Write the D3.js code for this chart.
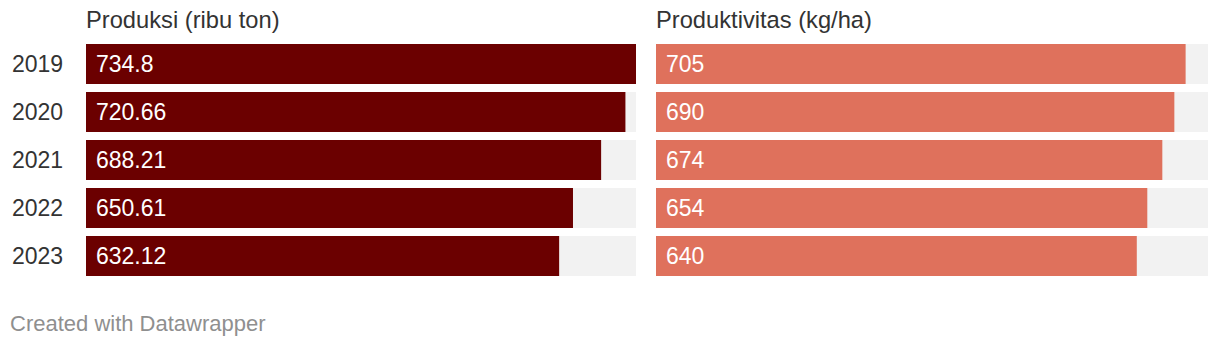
<!DOCTYPE html>
<html><head><meta charset="utf-8">
<script src="https://cdn.jsdelivr.net/npm/d3@7"></script>
<style>body{margin:0;background:#fff;}svg{display:block;font-family:"Liberation Sans",Arial,Helvetica,sans-serif;}</style>
</head><body>
<svg id="c" width="1220" height="348"></svg>
<script>
const years = ["2019","2020","2021","2022","2023"];
const produksi = [734.8, 720.66, 688.21, 650.61, 632.12];
const produksiLabels = ["734.8","720.66","688.21","650.61","632.12"];
const produktivitas = [705, 690, 674, 654, 640];
const produktivitasLabels = ["705","690","674","654","640"];
const titles = ["Produksi (ribu ton)", "Produktivitas (kg/ha)"];

const svg = d3.select("#c");
const yStep = d3.scaleBand().domain(years).range([44, 276]).paddingInner(1/6).paddingOuter(0);

const panels = [
  {x0: 86, x1: 636, vals: produksi, labels: produksiLabels, color: "#6b0000", title: titles[0]},
  {x0: 656, x1: 1208, vals: produktivitas, labels: produktivitasLabels, color: "#df715c", title: titles[1]}
];
const maxV = d3.max(produksi);
const FS = 23;

panels.forEach(p => {
  const x = d3.scaleLinear().domain([0, maxV]).range([p.x0, p.x1]);
  const g = svg.append("g");
  g.append("text").attr("x", p.x0).attr("y", 28).attr("font-size", 23.7).attr("fill", "#333").text(p.title);
  g.selectAll("rect.bg").data(years).join("rect").attr("class","bg")
    .attr("x", p.x0).attr("y", d => yStep(d)).attr("width", p.x1 - p.x0).attr("height", yStep.bandwidth()).attr("fill", "#f2f2f2");
  g.selectAll("rect.bar").data(p.vals).join("rect").attr("class","bar")
    .attr("x", p.x0).attr("y", (d,i) => yStep(years[i])).attr("width", d => x(d) - p.x0).attr("height", yStep.bandwidth()).attr("fill", p.color);
  g.selectAll("text.val").data(p.labels).join("text").attr("class","val")
    .attr("x", p.x0 + 10).attr("y", (d,i) => yStep(years[i]) + yStep.bandwidth()/2).attr("dy", "0.35em")
    .attr("font-size", FS).attr("fill", "#fff").text(d => d);
});

svg.selectAll("text.year").data(years).join("text").attr("class","year")
  .attr("x", 12).attr("y", d => yStep(d) + yStep.bandwidth()/2).attr("dy","0.35em")
  .attr("font-size", FS).attr("fill", "#333").text(d => d);

svg.append("text").attr("x", 10).attr("y", 331).attr("font-size", 22).attr("fill", "#8f8f8f").text("Created with Datawrapper");
</script>
</body></html>
